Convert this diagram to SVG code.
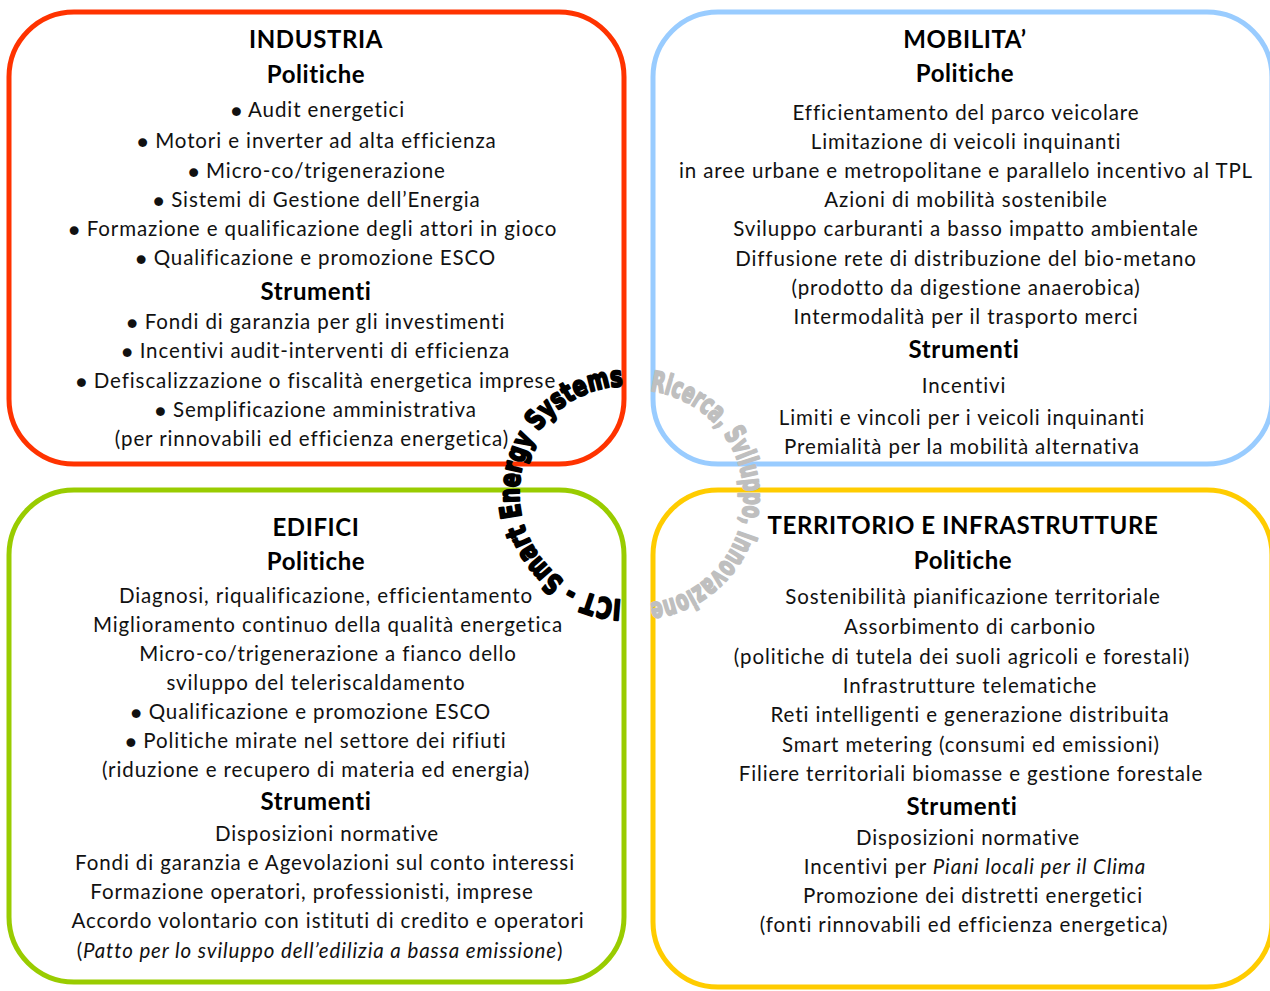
<svg xmlns="http://www.w3.org/2000/svg" width="1270" height="991" viewBox="0 0 1270 991">
<style>
.box{fill:#fff;stroke-width:5}
.t{font-family:Lato,"Liberation Sans",sans-serif;font-size:20.5px;letter-spacing:0.9px;fill:#111;text-anchor:middle}
.h{font-family:Lato,"Liberation Sans",sans-serif;font-size:24px;letter-spacing:0.6px;font-weight:bold;fill:#000;text-anchor:middle}
.b{font-size:18px}
.arc{font-family:"DejaVu Sans",sans-serif;font-weight:bold;font-size:28px;stroke-linejoin:round}
</style>
<defs>
<path id="arcL" d="M621.4,599.9 A107,107 0 0 1 621.4,386.1"/>
<path id="arcR" d="M650,390.8 A107,107 0 0 1 650,603.2"/>
</defs>
<g id="industria">
<rect class="box" x="9" y="12" width="615" height="452" rx="65" stroke="#FF3300"/>
<text class="h" x="316" y="48">INDUSTRIA</text>
<text class="h" x="316" y="83">Politiche</text>
<text class="t" x="318" y="117"><tspan class="b">●</tspan> Audit energetici</text>
<text class="t" x="317" y="148"><tspan class="b">●</tspan> Motori e inverter ad alta efficienza</text>
<text class="t" x="317" y="178"><tspan class="b">●</tspan> Micro-co/trigenerazione</text>
<text class="t" x="317" y="207"><tspan class="b">●</tspan> Sistemi di Gestione dell’Energia</text>
<text class="t" x="313" y="236"><tspan class="b">●</tspan> Formazione e qualificazione degli attori in gioco</text>
<text class="t" x="316" y="265"><tspan class="b">●</tspan> Qualificazione e promozione ESCO</text>
<text class="h" x="316" y="300">Strumenti</text>
<text class="t" x="316" y="329"><tspan class="b">●</tspan> Fondi di garanzia per gli investimenti</text>
<text class="t" x="316" y="358"><tspan class="b">●</tspan> Incentivi audit-interventi di efficienza</text>
<text class="t" x="316" y="388"><tspan class="b">●</tspan> Defiscalizzazione o fiscalità energetica imprese</text>
<text class="t" x="316" y="417"><tspan class="b">●</tspan> Semplificazione amministrativa</text>
<text class="t" x="312" y="446">(per rinnovabili ed efficienza energetica)</text>
</g>
<g id="mobilita">
<rect class="box" x="653" y="12" width="619" height="452" rx="65" stroke="#99CCFF"/>
<text class="h" x="965" y="48">MOBILITA’</text>
<text class="h" x="965" y="82">Politiche</text>
<text class="t" x="966" y="120">Efficientamento del parco veicolare</text>
<text class="t" x="966" y="149">Limitazione di veicoli inquinanti</text>
<text class="t" x="966" y="178">in aree urbane e metropolitane e parallelo incentivo al TPL</text>
<text class="t" x="966" y="207">Azioni di mobilità sostenibile</text>
<text class="t" x="966" y="236">Sviluppo carburanti a basso impatto ambientale</text>
<text class="t" x="966" y="266">Diffusione rete di distribuzione del bio-metano</text>
<text class="t" x="966" y="295">(prodotto da digestione anaerobica)</text>
<text class="t" x="966" y="324">Intermodalità per il trasporto merci</text>
<text class="h" x="964" y="358">Strumenti</text>
<text class="t" x="964" y="393">Incentivi</text>
<text class="t" x="962" y="425">Limiti e vincoli per i veicoli inquinanti</text>
<text class="t" x="962" y="454">Premialità per la mobilità alternativa</text>
</g>
<g id="edifici">
<rect class="box" x="9" y="490" width="615" height="492" rx="65" stroke="#99CC00"/>
<text class="h" x="316" y="536">EDIFICI</text>
<text class="h" x="316" y="570">Politiche</text>
<text class="t" x="326" y="603">Diagnosi, riqualificazione, efficientamento</text>
<text class="t" x="328" y="632">Miglioramento continuo della qualità energetica</text>
<text class="t" x="328" y="661">Micro-co/trigenerazione a fianco dello</text>
<text class="t" x="316" y="690">sviluppo del teleriscaldamento</text>
<text class="t" x="311" y="719"><tspan class="b">●</tspan> Qualificazione e promozione ESCO</text>
<text class="t" x="316" y="748"><tspan class="b">●</tspan> Politiche mirate nel settore dei rifiuti</text>
<text class="t" x="316" y="777">(riduzione e recupero di materia ed energia)</text>
<text class="h" x="316" y="810">Strumenti</text>
<text class="t" x="327" y="841">Disposizioni normative</text>
<text class="t" x="325" y="870">Fondi di garanzia e Agevolazioni sul conto interessi</text>
<text class="t" x="312" y="899">Formazione operatori, professionisti, imprese</text>
<text class="t" x="328" y="928">Accordo volontario con istituti di credito e operatori</text>
<text class="t" x="320" y="958">(<tspan font-style="italic">Patto per lo sviluppo dell’edilizia a bassa emissione</tspan>)</text>
</g>
<g id="territorio">
<rect class="box" x="653" y="490" width="619" height="497" rx="65" stroke="#FFCC00"/>
<text class="h" x="963" y="534">TERRITORIO E INFRASTRUTTURE</text>
<text class="h" x="963" y="569">Politiche</text>
<text class="t" x="973" y="604">Sostenibilità pianificazione territoriale</text>
<text class="t" x="970" y="634">Assorbimento di carbonio</text>
<text class="t" x="962" y="664">(politiche di tutela dei suoli agricoli e forestali)</text>
<text class="t" x="970" y="693">Infrastrutture telematiche</text>
<text class="t" x="970" y="722">Reti intelligenti e generazione distribuita</text>
<text class="t" x="971" y="752">Smart metering (consumi ed emissioni)</text>
<text class="t" x="971" y="781">Filiere territoriali biomasse e gestione forestale</text>
<text class="h" x="962" y="815">Strumenti</text>
<text class="t" x="968" y="845">Disposizioni normative</text>
<text class="t" x="975" y="874">Incentivi per <tspan font-style="italic">Piani locali per il Clima</tspan></text>
<text class="t" x="973" y="903">Promozione dei distretti energetici</text>
<text class="t" x="964" y="932">(fonti rinnovabili ed efficienza energetica)</text>
</g>
<g id="connectors">
<text class="arc" fill="#000" stroke="#000" stroke-width="2.2"><textPath href="#arcL" textLength="328" lengthAdjust="spacingAndGlyphs">ICT - Smart Energy Systems</textPath></text>
<text class="arc" fill="#BFBFBF" stroke="#BFBFBF" stroke-width="2"><textPath href="#arcR" textLength="310" lengthAdjust="spacingAndGlyphs">Ricerca, Sviluppo, Innovazione</textPath></text>
</g>
</svg>
